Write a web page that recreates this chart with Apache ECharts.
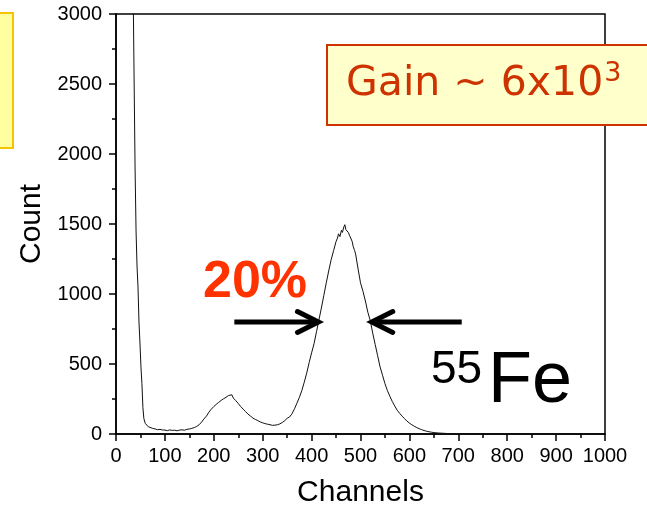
<!DOCTYPE html>
<html>
<head>
<meta charset="utf-8">
<script src="https://cdn.jsdelivr.net/npm/echarts@6/dist/echarts.min.js"></script>
<style>
html,body{margin:0;padding:0;background:#fff;}
#chart{width:647px;height:515px;}
</style>
</head>
<body>
<div id="chart"></div>
<script>
// Channel numbers (x) and counts (y)
const channels = [35,37,39,41,43,45,47,49,51,53,55,57,60,63,66,70,75,80,85,90,95,100,105,110,115,120,125,130,135,140,145,150,155,160,165,170,175,180,185,190,195,200,205,210,215,220,225,228,230,233,237,240,243,245,250,255,260,265,270,275,280,285,290,295,300,305,310,315,320,325,330,335,340,345,350,355,360,365,370,375,380,385,390,395,400,405,410,415,420,425,430,435,440,445,450,453,455,458,461,463,466,468,470,472,475,478,480,483,485,488,490,495,500,505,510,515,520,525,530,535,540,545,550,555,560,565,570,575,580,585,590,595,600,605,610,615,620,625,630,635,640,645,650,660,670,680,690];
const counts = [3200,2550,1900,1450,1200,1050,800,650,480,360,190,110,75,62,52,45,40,36,31,33,29,28,24,29,26,27,23,28,30,27,33,36,40,46,54,66,85,108,128,156,178,196,212,226,240,252,262,270,275,262,280,256,266,238,218,196,178,160,142,128,114,104,96,86,80,74,70,66,62,63,66,72,82,95,112,122,145,180,220,262,310,370,435,510,580,645,730,815,900,990,1080,1165,1245,1310,1375,1400,1430,1410,1455,1440,1480,1495,1460,1470,1440,1415,1400,1375,1340,1310,1285,1180,1080,1020,950,870,810,720,640,560,480,420,360,310,270,232,200,170,148,128,110,92,78,66,55,46,38,31,25,20,16,13,10,7,5,3,1];
const xTicks = {min:0, max:1000, interval:100};
const yTicks = {min:0, max:3000, interval:500};
// annotation anchors in data units
const arrowCount = 800;
const leftArrow = [242, 414];
const rightArrow = [707, 523];

const seriesData = channels.map((c,i)=>[c, counts[i]]);
const chart = echarts.init(document.getElementById('chart'), null, {renderer:'canvas'});
const FONT = '"Liberation Sans", Arial, Helvetica, sans-serif';
const plain = v => String(v);

chart.setOption({
  animation:false,
  backgroundColor:'#fff',
  grid:{left:116, right:42, top:14, bottom:81, show:true, borderColor:'#000', borderWidth:1.5, backgroundColor:'transparent'},
  xAxis:{
    type:'value', min:xTicks.min, max:xTicks.max, interval:xTicks.interval,
    name:'Channels', nameLocation:'middle', nameGap:44,
    nameTextStyle:{fontFamily:FONT, fontSize:30, color:'#000'},
    axisLine:{show:true, onZero:false, lineStyle:{color:'#000', width:1.5}},
    axisTick:{show:true, inside:false, length:7, lineStyle:{color:'#000', width:1.5}},
    minorTick:{show:true, splitNumber:2, length:4, lineStyle:{color:'#000', width:1.5}},
    splitLine:{show:false},
    axisLabel:{fontFamily:FONT, fontSize:20, color:'#000', margin:12, showMaxLabel:true, showMinLabel:true, formatter:plain}
  },
  yAxis:{
    type:'value', min:yTicks.min, max:yTicks.max, interval:yTicks.interval,
    name:'Count', nameLocation:'middle', nameGap:68, nameRotate:90,
    nameTextStyle:{fontFamily:FONT, fontSize:30, color:'#000'},
    axisLine:{show:true, lineStyle:{color:'#000', width:1.5}},
    axisTick:{show:true, inside:false, length:7, lineStyle:{color:'#000', width:1.5}},
    minorTick:{show:true, splitNumber:2, length:4, lineStyle:{color:'#000', width:1.5}},
    splitLine:{show:false},
    axisLabel:{fontFamily:FONT, fontSize:20, color:'#000', margin:14, formatter:plain}
  },
  series:[{
    type:'line', data:seriesData, showSymbol:false, clip:true,
    lineStyle:{color:'#111', width:1}, z:3
  }]
});

function px(x,y){ return chart.convertToPixel({gridIndex:0},[x,y]); }
const ctx = document.createElement('canvas').getContext('2d');
function tw(text, font){ ctx.font = font; return ctx.measureText(text).width; }

const lA = px(leftArrow[0], arrowCount), lB = px(leftArrow[1], arrowCount);
const rA = px(rightArrow[0], arrowCount), rB = px(rightArrow[1], arrowCount);
const head = 21, half = 10.5;
const gainFont = '41px "DejaVu Sans", sans-serif';
const gainText = 'Gain ~ 6x10';
const gainW = tw(gainText, gainFont);

chart.setOption({
  graphic:[
    {type:'rect', shape:{x:-10, y:13, width:23, height:135}, style:{fill:'#ffffa0', stroke:'#f7c200', lineWidth:2}, z:10},
    {type:'rect', shape:{x:327, y:45, width:340, height:80}, style:{fill:'#ffffcc', stroke:'#cc3300', lineWidth:2}, z:10},
    {type:'text', x:346, y:84, style:{text:gainText, font:gainFont, fill:'#cc3300', verticalAlign:'middle', align:'left'}, z:11},
    {type:'text', x:346+gainW+1, y:74, style:{text:'3', font:'27px "DejaVu Sans", sans-serif', fill:'#cc3300', verticalAlign:'middle', align:'left'}, z:11},
    {type:'text', x:203, y:283, style:{text:'20%', font:'bold 52px "Liberation Sans", Arial, sans-serif', fill:'#ff3300', verticalAlign:'middle', align:'left'}, z:11},
    {type:'text', x:431, y:370, style:{text:'55', font:'46px "Liberation Sans", Arial, sans-serif', fill:'#000', verticalAlign:'middle', align:'left'}, z:11},
    {type:'text', x:488, y:382, style:{text:'Fe', font:'72px "Liberation Sans", Arial, sans-serif', fill:'#000', verticalAlign:'middle', align:'left'}, z:11},
    {type:'polyline', shape:{points:[lA, [lB[0]-2, lB[1]]]}, style:{stroke:'#000', lineWidth:5}, z:11},
    {type:'polyline', shape:{points:[[lB[0]-head, lB[1]-half],[lB[0], lB[1]],[lB[0]-head, lB[1]+half]]}, style:{stroke:'#000', lineWidth:5, fill:null, lineJoin:'miter', lineCap:'round'}, z:11},
    {type:'polyline', shape:{points:[rA, [rB[0]+2, rB[1]]]}, style:{stroke:'#000', lineWidth:5}, z:11},
    {type:'polyline', shape:{points:[[rB[0]+head, rB[1]-half],[rB[0], rB[1]],[rB[0]+head, rB[1]+half]]}, style:{stroke:'#000', lineWidth:5, fill:null, lineJoin:'miter', lineCap:'round'}, z:11}
  ]
});
</script>
</body>
</html>
